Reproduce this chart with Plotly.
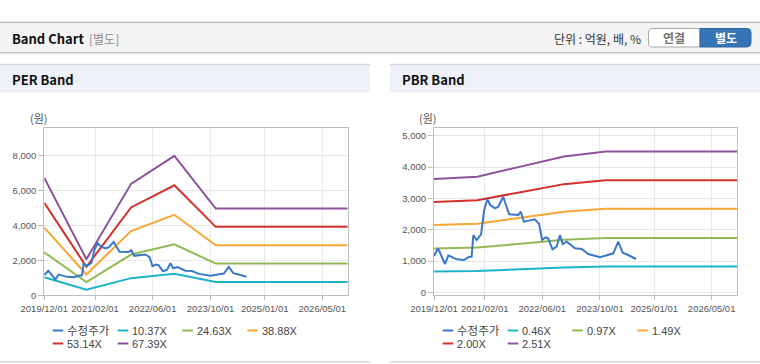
import plotly.graph_objects as go

W, H = 760, 364

# ---------------- data ----------------
x_tick_vals = ["2019-12-01", "2021-02-01", "2022-06-01", "2023-10-01", "2025-01-01", "2026-05-01"]
x_tick_text = ["2019/12/01", "2021/02/01", "2022/06/01", "2023/10/01", "2025/01/01", "2026/05/01"]

price_dates = ["2019-12-01", "2020-01-04", "2020-03-03", "2020-03-31", "2020-06-09", "2020-08-10",
               "2020-09-15", "2020-10-14", "2020-10-28", "2020-11-25", "2021-01-01", "2021-01-28",
               "2021-02-23", "2021-03-20", "2021-04-29", "2021-05-27", "2021-07-07", "2021-08-26",
               "2021-11-11", "2021-12-03", "2021-12-28", "2022-03-31", "2022-05-06", "2022-05-31",
               "2022-06-29", "2022-07-21", "2022-08-27", "2022-10-01", "2022-10-29", "2022-11-21",
               "2022-12-25", "2023-03-05", "2023-04-30", "2023-06-25", "2023-10-02", "2023-12-25",
               "2024-01-22", "2024-03-04", "2024-04-10", "2024-05-27", "2024-07-31"]
price_values = [1160, 1406, 904, 1182, 1054, 1030, 1118, 1140, 1830, 1671, 1853, 2629,
                2971, 2789, 2684, 2735, 3054, 2492, 2470, 2575, 2256, 2332, 2182, 1671,
                1757, 1725, 1374, 1457, 1830, 1543, 1617, 1406, 1384, 1224, 1118, 1224,
                1245, 1617, 1266, 1192, 1064]

per_dates = ["2019-12-01", "2020-11-20", "2021-12-01", "2022-12-01", "2023-11-15", "2026-12-01"]
per_10_37 = [1032, 317, 980, 1227, 763, 763]
per_24_63 = [2451, 754, 2328, 2914, 1813, 1813]
per_38_88 = [3869, 1190, 3674, 4600, 2862, 2862]
per_53_14 = [5287, 1626, 5022, 6287, 3911, 3911]
per_67_39 = [6705, 2062, 6368, 7972, 4960, 4960]

pbr_dates = ["2019-12-01", "2020-12-01", "2021-12-01", "2022-12-01", "2023-11-20", "2026-12-01"]
pbr_0_46 = [664, 677, 736, 795, 824, 824]
pbr_0_97 = [1400, 1428, 1552, 1676, 1738, 1738]
pbr_1_49 = [2150, 2193, 2384, 2575, 2670, 2670]
pbr_2_00 = [2886, 2944, 3200, 3456, 3584, 3584]
pbr_2_51 = [3622, 3695, 4016, 4337, 4498, 4498]

per_names = ["수정주가", "10.37X", "24.63X", "38.88X", "53.14X", "67.39X"]
pbr_names = ["수정주가", "0.46X", "0.97X", "1.49X", "2.00X", "2.51X"]
colors = ["#3a78c9", "#1db3c7", "#91b954", "#f7a733", "#d3302b", "#8e519c"]

per_ticks = [0, 2000, 4000, 6000, 8000]
pbr_ticks = [0, 1000, 2000, 3000, 4000, 5000]


def px(x):
    return x / W


def py(y):
    return 1 - y / H


fig = go.Figure()

per_bands = [per_10_37, per_24_63, per_38_88, per_53_14, per_67_39]
pbr_bands = [pbr_0_46, pbr_0_97, pbr_1_49, pbr_2_00, pbr_2_51]

for i, band in enumerate(per_bands):
    fig.add_trace(go.Scatter(x=per_dates, y=band, mode="lines", name=per_names[i + 1],
                             line=dict(color=colors[i + 1], width=2), xaxis="x", yaxis="y",
                             showlegend=False))
fig.add_trace(go.Scatter(x=price_dates, y=price_values, mode="lines", name=per_names[0],
                         line=dict(color=colors[0], width=2), xaxis="x", yaxis="y", showlegend=False))

for i, band in enumerate(pbr_bands):
    fig.add_trace(go.Scatter(x=pbr_dates, y=band, mode="lines", name=pbr_names[i + 1],
                             line=dict(color=colors[i + 1], width=2), xaxis="x2", yaxis="y2",
                             showlegend=False))
fig.add_trace(go.Scatter(x=price_dates, y=price_values, mode="lines", name=pbr_names[0],
                         line=dict(color=colors[0], width=2), xaxis="x2", yaxis="y2", showlegend=False))

tickfont = dict(family="Liberation Sans, Noto Sans CJK KR", size=9.5, color="#555555")
frame = "#bdbdbd"
grid = "#e8e8e8"

xcommon = dict(type="date", range=["2019-12-01", "2026-12-01"], tickvals=x_tick_vals,
               ticktext=x_tick_text, tickangle=0, showgrid=True, gridcolor=grid, showline=True,
               linecolor=frame, mirror=True, ticks="outside", ticklen=4, tickcolor=frame,
               tickfont=tickfont, zeroline=False, fixedrange=True, automargin=False)
ycommon = dict(showgrid=True, gridcolor=grid, showline=True, linecolor=frame, mirror=True,
               ticks="outside", ticklen=5, tickcolor=frame, tickfont=tickfont, tickformat=",",
               zeroline=False, fixedrange=True, automargin=False)

fig.update_layout(
    width=W, height=H, autosize=False,
    margin=dict(l=0, r=0, t=0, b=0, pad=0, autoexpand=False),
    paper_bgcolor="white", plot_bgcolor="white",
    showlegend=False,
    xaxis=dict(domain=[px(44.3), px(347.7)], anchor="y", **xcommon),
    yaxis=dict(domain=[py(295.3), py(128.3)], anchor="x", range=[0, 9543], tickvals=per_ticks, **ycommon),
    xaxis2=dict(domain=[px(434), px(737)], anchor="y2", **xcommon),
    yaxis2=dict(domain=[py(295.3), py(128.3)], anchor="x2", range=[-96, 5240], tickvals=pbr_ticks, **ycommon),
)

shapes = []
ann = []


def rect(x0, y0, x1, y1, fill):
    shapes.append(dict(type="rect", xref="paper", yref="paper", x0=px(x0), x1=px(x1), y0=py(y1), y1=py(y0),
                       fillcolor=fill, line=dict(width=0), layer="below"))


def hline(x0, x1, y, color, w=1):
    shapes.append(dict(type="line", xref="paper", yref="paper", x0=px(x0), x1=px(x1), y0=py(y), y1=py(y),
                       line=dict(color=color, width=w)))


def text(x, y, s, size=12, color="#222", bold=False, xanchor="left", family="Noto Sans CJK KR"):
    ann.append(dict(xref="paper", yref="paper", x=px(x), y=py(y), text=("<b>%s</b>" % s) if bold else s,
                    showarrow=False, xanchor=xanchor, yanchor="middle", borderpad=0,
                    font=dict(family=family, size=size, color=color)))


def rounded_path(x0, y0, x1, y1, r, left=True, right=True):
    rx, ry = r / W, r / H
    X0, X1, Y0, Y1 = px(x0), px(x1), py(y0), py(y1)  # Y0 top, Y1 bottom
    p = ["M %f,%f" % ((X0 + rx) if left else X0, Y0)]
    if right:
        p.append("L %f,%f Q %f,%f %f,%f" % (X1 - rx, Y0, X1, Y0, X1, Y0 - ry))
        p.append("L %f,%f Q %f,%f %f,%f" % (X1, Y1 + ry, X1, Y1, X1 - rx, Y1))
    else:
        p.append("L %f,%f L %f,%f" % (X1, Y0, X1, Y1))
    if left:
        p.append("L %f,%f Q %f,%f %f,%f" % (X0 + rx, Y1, X0, Y1, X0, Y1 + ry))
        p.append("L %f,%f Q %f,%f %f,%f" % (X0, Y0 - ry, X0, Y0, X0 + rx, Y0))
    else:
        p.append("L %f,%f" % (X0, Y1))
    p.append("Z")
    return " ".join(p)


# header bar
rect(0, 22, 760, 52.5, "#f4f4f4")
hline(0, 760, 22.3, "#b8b8b8", 1.2)
hline(0, 760, 52.7, "#c4c4c4", 1.2)
hline(0, 760, 54, "#ececec", 1.5)
text(11, 38.3, "Band Chart", size=13, color="#111", bold=True)
text(88, 38.3, "[별도]", size=12, color="#8a8a8a")
text(642, 38.3, "단위 : 억원, 배, %", size=12, color="#333", xanchor="right")

shapes.append(dict(type="path", xref="paper", yref="paper", path=rounded_path(648.5, 28.5, 700, 47, 4, True, False),
                   fillcolor="white", line=dict(color="#a8a8a8", width=1)))
shapes.append(dict(type="path", xref="paper", yref="paper", path=rounded_path(700, 28.5, 751, 47, 4, False, True),
                   fillcolor="#3674b5", line=dict(color="#2f67a3", width=1)))
text(674.3, 38, "연결", size=12, color="#777", bold=True, xanchor="center")
text(725.5, 38, "별도", size=12, color="white", bold=True, xanchor="center")

# panels
for ox, x1, title in [(0, 370, "PER Band"), (390, 760, "PBR Band")]:
    rect(ox, 64.3, x1, 92.5, "#eef2f8")
    hline(ox, x1, 64.3, "#d6d6d6", 1.2)
    hline(ox, x1, 361.7, "#d6d6d6", 1.5)
    text(ox + 11, 79.5, title, size=13, color="#111", bold=True)

text(38.5, 118.3, "(원)", size=11, color="#555", xanchor="center")
text(428, 118.3, "(원)", size=11, color="#555", xanchor="center")

# legends
leg_pos = [(52.7, 330.5), (117.7, 330.5), (182.3, 330.5), (247.3, 330.5), (52.7, 343.5), (117.7, 343.5)]
for ox, names in [(0, per_names), (390, pbr_names)]:
    for i, (lx, ly) in enumerate(leg_pos):
        hline(ox + lx, ox + lx + 10.5, ly, colors[i], 2)
        size = 11.5 if i == 0 else 11
        text(ox + lx + 13.5, ly, names[i], size=size, color="#444",
             family="Liberation Sans, Noto Sans CJK KR")

fig.update_layout(shapes=shapes, annotations=ann)
fig.write_html("out.html", config={"displayModeBar": False},
               post_script="document.body.style.margin='0';")
